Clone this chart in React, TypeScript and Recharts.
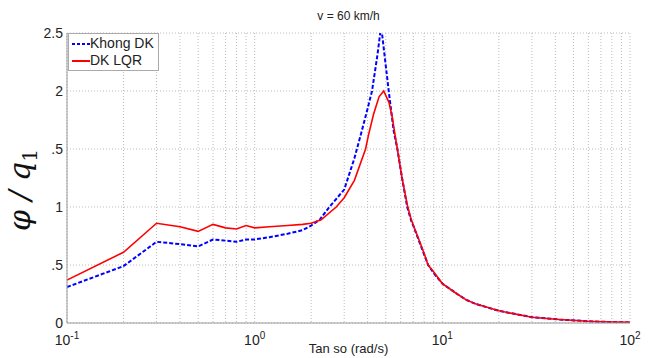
import React from 'react';
import { LineChart, Line, XAxis, YAxis, CartesianGrid } from 'recharts';

// frequency (rad/s) and amplitude values
const blueFreq = [0.1, 0.2, 0.3, 0.4, 0.5, 0.6, 0.7, 0.8, 0.9, 1.0, 1.2, 1.5, 1.8, 2.0, 2.22, 2.5, 3.0, 3.4, 3.7, 4.0, 4.22, 4.5, 4.72, 5.18, 5.5, 5.76, 6.1, 6.5, 6.83, 7, 7.5, 8, 8.4, 9, 10, 12, 13.4, 15, 20, 30, 42, 60, 80, 100];
const blueVals = [0.31, 0.49, 0.70, 0.68, 0.66, 0.72, 0.71, 0.70, 0.72, 0.72, 0.74, 0.77, 0.80, 0.84, 0.89, 1.0, 1.15, 1.42, 1.64, 1.85, 2.0, 2.3, 2.56, 2.0, 1.66, 1.5, 1.25, 1.0, 0.88, 0.84, 0.71, 0.59, 0.5, 0.43, 0.34, 0.25, 0.2, 0.165, 0.105, 0.05, 0.03, 0.015, 0.008, 0.005];

const redFreq = [0.1, 0.2, 0.3, 0.4, 0.5, 0.6, 0.7, 0.8, 0.9, 1.0, 1.2, 1.5, 1.8, 2.0, 2.26, 2.72, 3.0, 3.4, 3.9, 4.04, 4.3, 4.6, 4.87, 5.2, 5.4, 5.6, 5.76, 6.1, 6.5, 6.83, 7, 7.5, 8, 8.4, 9, 10, 12, 13.4, 15, 20, 30, 42, 60, 80, 100];
const redVals = [0.37, 0.61, 0.86, 0.83, 0.79, 0.85, 0.82, 0.81, 0.84, 0.82, 0.83, 0.84, 0.85, 0.86, 0.89, 1.0, 1.08, 1.23, 1.5, 1.62, 1.8, 1.95, 2.0, 1.9, 1.78, 1.62, 1.5, 1.25, 1.02, 0.89, 0.845, 0.72, 0.60, 0.5, 0.44, 0.34, 0.25, 0.2, 0.165, 0.105, 0.05, 0.03, 0.015, 0.008, 0.005];

const xTicks = [0.1, 0.2, 0.3, 0.4, 0.5, 0.6, 0.7, 0.8, 0.9, 1, 2, 3, 4, 5, 6, 7, 8, 9, 10, 20, 30, 40, 50, 60, 70, 80, 90, 100];
const decades: Record<number, string> = { 0.1: '-1', 1: '0', 10: '1', 100: '2' };
const yTicks = [0, 0.5, 1, 1.5, 2, 2.5];
const yTickLabels = ['0', '.5', '1', '.5', '2', '2.5'];

const blueData = blueFreq.map((x, i) => ({ x, y: blueVals[i] }));
const redData = redFreq.map((x, i) => ({ x, y: redVals[i] }));

const font = '"Liberation Sans", Arial, sans-serif';

const XTick = (props: any) => {
  const { x, y, payload } = props;
  const exp = decades[payload.value];
  if (exp === undefined) return null;
  return (
    <text x={x} y={y + 14} textAnchor="middle" fontFamily={font} fontSize={14} fill="#222">
      <tspan>10</tspan>
      <tspan dy={-6} fontSize={10}>{exp}</tspan>
    </text>
  );
};

const YLabel = () => (
  <text
    x={30}
    y={190}
    transform="rotate(-90 30 190)"
    textAnchor="middle"
    fontFamily='"DejaVu Serif", "Liberation Serif", serif'
    fontStyle="italic"
    fontSize={30}
    fill="#111"
  >
    <tspan>φ / q</tspan>
    <tspan dy={7} fontSize={20} fontStyle="normal">1</tspan>
  </text>
);

const LegendBox = () => (
  <div style={{ position: 'absolute', left: 68, top: 33, border: '1px solid #aaa', background: '#fff', padding: '1px 4px 1px 3px', fontFamily: font, fontSize: 14, color: '#222', lineHeight: '17px' }}>
    <div style={{ display: 'flex', alignItems: 'center' }}>
      <svg width={18} height={6}><line x1={0} y1={3} x2={18} y2={3} stroke="#0000ff" strokeWidth={2} strokeDasharray="3 2" /></svg>
      <span>Khong DK</span>
    </div>
    <div style={{ display: 'flex', alignItems: 'center' }}>
      <svg width={18} height={6}><line x1={0} y1={3} x2={18} y2={3} stroke="#ff0000" strokeWidth={2} /></svg>
      <span>DK LQR</span>
    </div>
  </div>
);

export default function App() {
  return (
    <div style={{ position: 'fixed', left: 0, top: 0, width: 648, height: 358, background: '#fff' }}>
      <div style={{ position: 'absolute', left: 0, top: 9, width: 697, textAlign: 'center', fontFamily: font, fontSize: 12, color: '#222' }}>
        v = 60 km/h
      </div>
      <div style={{ position: 'absolute', left: 0, top: 341, width: 697, textAlign: 'center', fontFamily: font, fontSize: 13, color: '#222' }}>
        Tan so (rad/s)
      </div>
      <LineChart width={648} height={358} margin={{ top: 33, right: 18, bottom: 0, left: 0 }} style={{ position: 'absolute', left: 0, top: 0 }}>
        <CartesianGrid stroke="#bbb" strokeDasharray="1 2" />
        <XAxis
          dataKey="x"
          type="number"
          scale="log"
          domain={[0.1, 100]}
          ticks={xTicks}
          allowDataOverflow
          height={35}
          tickLine={false}
          axisLine={{ stroke: '#999' }}
          tick={<XTick />}
          interval={0}
        />
        <YAxis
          type="number"
          domain={[0, 2.5]}
          ticks={yTicks}
          allowDataOverflow
          width={67}
          tickLine={false}
          tickSize={2}
          axisLine={{ stroke: '#999' }}
          tick={{ fill: '#222', fontSize: 14, fontFamily: font }}
          tickFormatter={(v: number) => yTickLabels[yTicks.indexOf(v)]}
          label={<YLabel />}
        />
        <Line data={blueData} dataKey="y" stroke="#0000ff" strokeWidth={2} strokeDasharray="4 2" dot={false} isAnimationActive={false} />
        <Line data={redData} dataKey="y" stroke="#ff0000" strokeWidth={1.6} dot={false} isAnimationActive={false} />
      </LineChart>
      <LegendBox />
    </div>
  );
}
